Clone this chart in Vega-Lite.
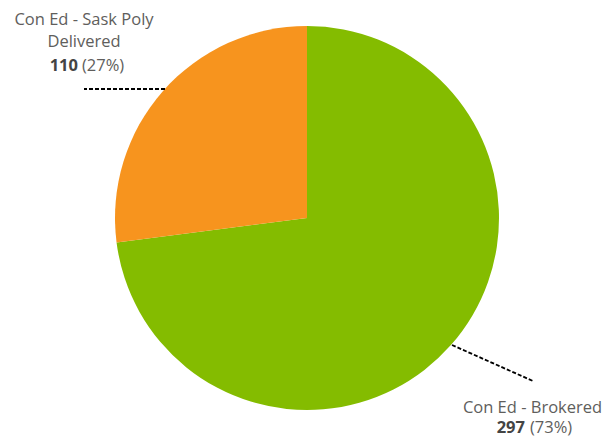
{
  "$schema": "https://vega.github.io/schema/vega-lite/v6.json",
  "width": 603,
  "height": 436,
  "padding": 0,
  "autosize": "none",
  "background": "white",
  "config": {"view": {"stroke": null}},
  "datasets": {
    "pie": [
      {"category": "Con Ed - Brokered", "value": 297, "order": 1},
      {"category": "Con Ed - Sask Poly Delivered", "value": 110, "order": 2}
    ],
    "leaders": [
      {"x": -142, "y": 129, "x2": -223, "y2": 129},
      {"x": 145, "y": -127, "x2": 226, "y2": -163}
    ],
    "labels": [
      {"text": "Con Ed - Sask Poly", "x": -223, "y": 193},
      {"text": "Delivered", "x": -223, "y": 171},
      {"text": "Con Ed - Brokered", "x": 225.5, "y": -194.5}
    ],
    "values": [
      {"num": "110", "pct": "(27%)", "x": -229, "x2": -225, "y": 147.5},
      {"num": "297", "pct": "(73%)", "x": 218, "x2": 223, "y": -215}
    ]
  },
  "resolve": {"scale": {"x": "shared", "y": "shared"}},
  "layer": [
    {
      "data": {"name": "pie"},
      "mark": {"type": "arc", "radius": 192, "stroke": null},
      "encoding": {
        "x": {"datum": 0, "type": "quantitative", "scale": {"domain": [-307, 296], "nice": false, "zero": false}, "axis": null},
        "y": {"datum": 0, "type": "quantitative", "scale": {"domain": [-218, 218], "nice": false, "zero": false}, "axis": null},
        "theta": {"field": "value", "type": "quantitative", "stack": true},
        "order": {"field": "order", "type": "quantitative"},
        "color": {
          "field": "category",
          "type": "nominal",
          "scale": {"domain": ["Con Ed - Brokered", "Con Ed - Sask Poly Delivered"], "range": ["#84BC00", "#F7941E"]},
          "legend": null
        }
      }
    },
    {
      "data": {"name": "leaders"},
      "mark": {"type": "rule", "color": "#000000", "strokeWidth": 1.8, "strokeDash": [4, 2]},
      "encoding": {
        "x": {"field": "x", "type": "quantitative", "scale": {"domain": [-307, 296], "nice": false, "zero": false}, "axis": null},
        "y": {"field": "y", "type": "quantitative", "scale": {"domain": [-218, 218], "nice": false, "zero": false}, "axis": null},
        "x2": {"field": "x2"},
        "y2": {"field": "y2"}
      }
    },
    {
      "data": {"name": "labels"},
      "mark": {"type": "text", "font": "Open Sans", "fontSize": 16.5, "color": "#605E5C", "align": "center", "baseline": "alphabetic"},
      "encoding": {
        "x": {"field": "x", "type": "quantitative", "axis": null},
        "y": {"field": "y", "type": "quantitative", "axis": null},
        "text": {"field": "text"}
      }
    },
    {
      "data": {"name": "values"},
      "mark": {"type": "text", "font": "Open Sans", "fontSize": 16.5, "fontWeight": "bold", "color": "#444444", "align": "right", "baseline": "alphabetic"},
      "encoding": {
        "x": {"field": "x", "type": "quantitative", "axis": null},
        "y": {"field": "y", "type": "quantitative", "axis": null},
        "text": {"field": "num"}
      }
    },
    {
      "data": {"name": "values"},
      "mark": {"type": "text", "font": "Open Sans", "fontSize": 16.5, "color": "#605E5C", "align": "left", "baseline": "alphabetic"},
      "encoding": {
        "x": {"field": "x2", "type": "quantitative", "axis": null},
        "y": {"field": "y", "type": "quantitative", "axis": null},
        "text": {"field": "pct"}
      }
    }
  ]
}
